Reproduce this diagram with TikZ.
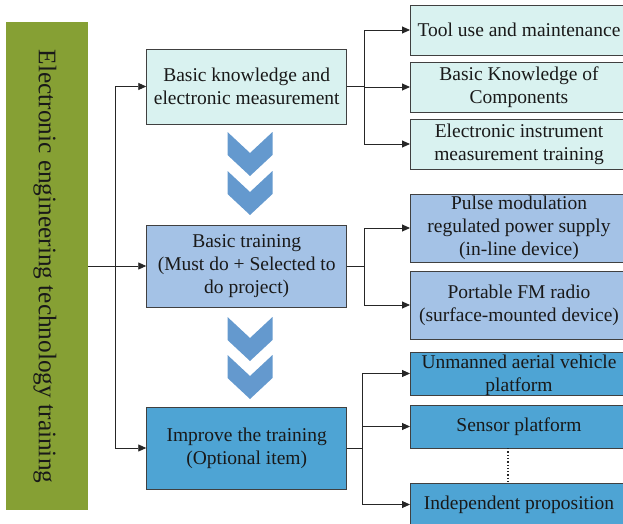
\documentclass[tikz,border=0pt]{standalone}
\usepackage{fontspec}
\setmainfont{Liberation Serif}
\usetikzlibrary{arrows.meta,calc}
\definecolor{cyanlt}{HTML}{D9F2F0}
\definecolor{bluelt}{HTML}{A4C2E6}
\definecolor{bluemd}{HTML}{4EA4D4}
\definecolor{chev}{HTML}{6499CE}
\definecolor{olive}{HTML}{86A034}
\definecolor{edge}{HTML}{404040}
\begin{document}
\begin{tikzpicture}[x=1pt,y=-1pt,
  box/.style={draw=edge,line width=0.9pt,rectangle,align=center,inner sep=0pt,
    font=\fontsize{19.5}{23}\selectfont,text=black!90},
  link/.style={line width=0.9pt,draw=black!85},
  arr/.style={link,-{Triangle[length=8pt,width=7pt]}},
  chevron/.style={fill=chev,draw=none}]
\useasboundingbox (0,0) rectangle (623,524);
\clip (0,0) rectangle (623,524);
% left green bar
\node[box,draw=none,fill=olive,minimum width=82pt,minimum height=488pt] (g) at (47,266) {};
\node[font=\fontsize{25.3}{30}\selectfont,text=black!90,rotate=-90,inner sep=0pt] (gt) at (45,266.5) {Electronic engineering technology training};
% main boxes
\node[box,fill=cyanlt,minimum width=200pt,minimum height=75pt] (b1) at (246.7,86.5) {Basic knowledge and\\electronic measurement};
\node[box,fill=bluelt,minimum width=200pt,minimum height=82pt] (b2) at (246.7,266) {Basic training\\(Must do + Selected to\\do project)};
\node[box,fill=bluemd,minimum width=200pt,minimum height=82pt] (b3) at (246.7,448) {Improve the training\\(Optional item)};
% right boxes
\node[box,fill=cyanlt,minimum width=220pt,minimum height=50pt,anchor=west] (ra) at (410,30) {};
\node[box,fill=cyanlt,minimum width=220pt,minimum height=50pt,anchor=west] (rb) at (410,87) {};
\node[box,fill=cyanlt,minimum width=220pt,minimum height=50pt,anchor=west] (rc) at (410,144) {};
\node[box,fill=bluelt,minimum width=220pt,minimum height=68pt,anchor=west] (rd) at (410,228) {};
\node[box,fill=bluelt,minimum width=220pt,minimum height=68pt,anchor=west] (re) at (410,305) {};
\node[box,fill=bluemd,minimum width=220pt,minimum height=43pt,anchor=west] (rf) at (410,373.5) {};
\node[box,fill=bluemd,minimum width=220pt,minimum height=43pt,anchor=west] (rg) at (410,426.5) {};
\node[box,fill=bluemd,minimum width=220pt,minimum height=43pt,anchor=west] (rh) at (410,504.5) {};
% right box texts
\tikzset{rtext/.style={align=center,inner sep=0pt,font=\fontsize{19.5}{23}\selectfont,text=black!90}}
\node[rtext] (ta) at (519,30) {Tool use and maintenance};
\node[rtext] (tb) at (519,87) {Basic Knowledge of\\Components};
\node[rtext] (tc) at (519,144) {Electronic instrument\\measurement training};
\node[rtext] (td) at (519,228) {Pulse modulation\\regulated power supply\\(in-line device)};
\node[rtext] (te) at (519,305) {Portable FM radio\\(surface-mounted device)};
\node[rtext] (tf) at (519,375) {Unmanned aerial vehicle\\platform};
\node[rtext] (tg) at (519,426.5) {Sensor platform};
\node[rtext] (th) at (519,504.5) {Independent proposition};
% chevrons
\foreach \yy in {132,171,317,355}{
  \fill[chevron] (227.5,\yy) -- (250,\yy+21) -- (272.5,\yy) -- (272.5,\yy+23) -- (250,\yy+44) -- (227.5,\yy+23) -- cycle;
}
% left connectors
\coordinate (j0) at (115,266);
\draw[arr] (g.east) -- (b2.west);
\draw[arr] (j0) |- (b1.west);
\draw[arr] (j0) |- (b3.west);
% group 1
\coordinate (j1) at (364,86.5);
\draw[link] (b1.east) -- (j1);
\draw[arr] (j1) |- (ra.west);
\draw[arr] (j1) |- (rb.west);
\draw[arr] (j1) |- (rc.west);
% group 2
\coordinate (j2) at (364,266);
\draw[link] (b2.east) -- (j2);
\draw[arr] (j2) |- (rd.west);
\draw[arr] (j2) |- (re.west);
% group 3
\coordinate (j3) at (362,448);
\draw[link] (b3.east) -- (j3);
\draw[arr] (j3) |- (rf.west);
\draw[arr] (j3) |- (rg.west);
\draw[arr] (j3) |- (rh.west);
% dotted
\coordinate (d1) at (508,448);
\coordinate (d2) at (508,483);
\draw[line width=1.3pt,dotted,draw=black!85] (d1) -- (d2);
\end{tikzpicture}
\end{document}
